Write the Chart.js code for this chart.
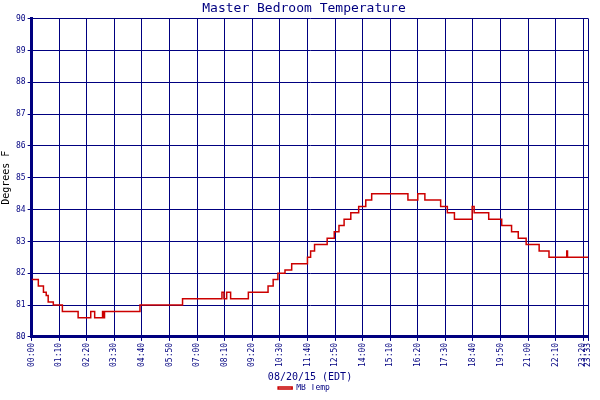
<!DOCTYPE html>
<html><head><meta charset="utf-8">
<script src="https://cdn.jsdelivr.net/npm/chart.js@4"></script>
<style>html,body{margin:0;padding:0;background:#fff}#w{width:600px;height:400px}</style>
</head><body><div id="w"><canvas id="c"></canvas></div>
<script>
const minutes = [0,17,30,37,42,55,78,118,150,160,180,183,185,275,383,483,488,495,505,550,600,613,625,643,660,700,708,718,750,768,780,793,810,830,848,863,955,980,998,1038,1055,1073,1118,1123,1160,1193,1218,1235,1255,1288,1313,1358,1360,1413];
const temps   = [81.8,81.6,81.4,81.3,81.1,81.0,80.8,80.6,80.8,80.6,80.8,80.6,80.8,81.0,81.2,81.4,81.2,81.4,81.2,81.4,81.6,81.8,82.0,82.1,82.3,82.5,82.7,82.9,83.1,83.3,83.5,83.7,83.9,84.1,84.3,84.5,84.3,84.5,84.3,84.1,83.9,83.7,84.1,83.9,83.7,83.5,83.3,83.1,82.9,82.7,82.5,82.7,82.5,82.5];
const tickMinutes = [0,70,140,210,280,350,420,490,560,630,700,770,840,910,980,1050,1120,1190,1260,1330,1400,1413];
const seriesName = 'MB Temp';
const navy = '#000080';
const fmt = m => String(Math.floor(m/60)).padStart(2,'0')+':'+String(Math.round(m%60)).padStart(2,'0');
new Chart(document.getElementById('c'), {
  type:'line',
  data:{datasets:[{label:seriesName,data:minutes.map((m,i)=>({x:m,y:temps[i]})),borderColor:'#cc0000',borderWidth:1.5,pointRadius:0,stepped:true,fill:false}]},
  options:{
    responsive:true,maintainAspectRatio:false,animation:false,
    layout:{padding:{left:0,right:-8,top:1,bottom:-2}},
    plugins:{
      title:{display:true,text:'Master Bedroom Temperature',color:navy,font:{family:'DejaVu Sans Mono',size:13,weight:'normal'},padding:{top:0,bottom:2}},
      legend:{position:'bottom',labels:{color:navy,font:{family:'DejaVu Sans Mono',size:8},boxWidth:14,boxHeight:2,padding:0}},
      tooltip:{enabled:false}
    },
    scales:{
      x:{type:'linear',min:0,max:1413,
        afterBuildTicks:s=>{s.ticks=tickMinutes.map(v=>({value:v}));},
        ticks:{color:navy,font:{family:'DejaVu Sans Mono',size:8},minRotation:90,maxRotation:90,autoSkip:false,callback:v=>fmt(v),padding:2},
        grid:{color:navy,lineWidth:1,tickLength:4},border:{color:navy,width:3},
        title:{display:true,text:'08/20/15 (EDT)',color:navy,font:{family:'DejaVu Sans Mono',size:10},padding:{top:2,bottom:1}}},
      y:{min:80,max:90,
        ticks:{stepSize:1,color:navy,font:{family:'DejaVu Sans Mono',size:8},padding:2},
        grid:{color:navy,lineWidth:1,tickLength:4},border:{color:navy,width:3},
        title:{display:true,text:'Degrees F',color:'#000',font:{family:'DejaVu Sans Mono',size:10},padding:{top:0,bottom:2}}}
    }
  },
  plugins:[{id:'bg',beforeDraw:c=>{const x=c.ctx;x.save();x.fillStyle='#fff';x.fillRect(0,0,c.width,c.height);x.restore();}}]
});
</script></body></html>
